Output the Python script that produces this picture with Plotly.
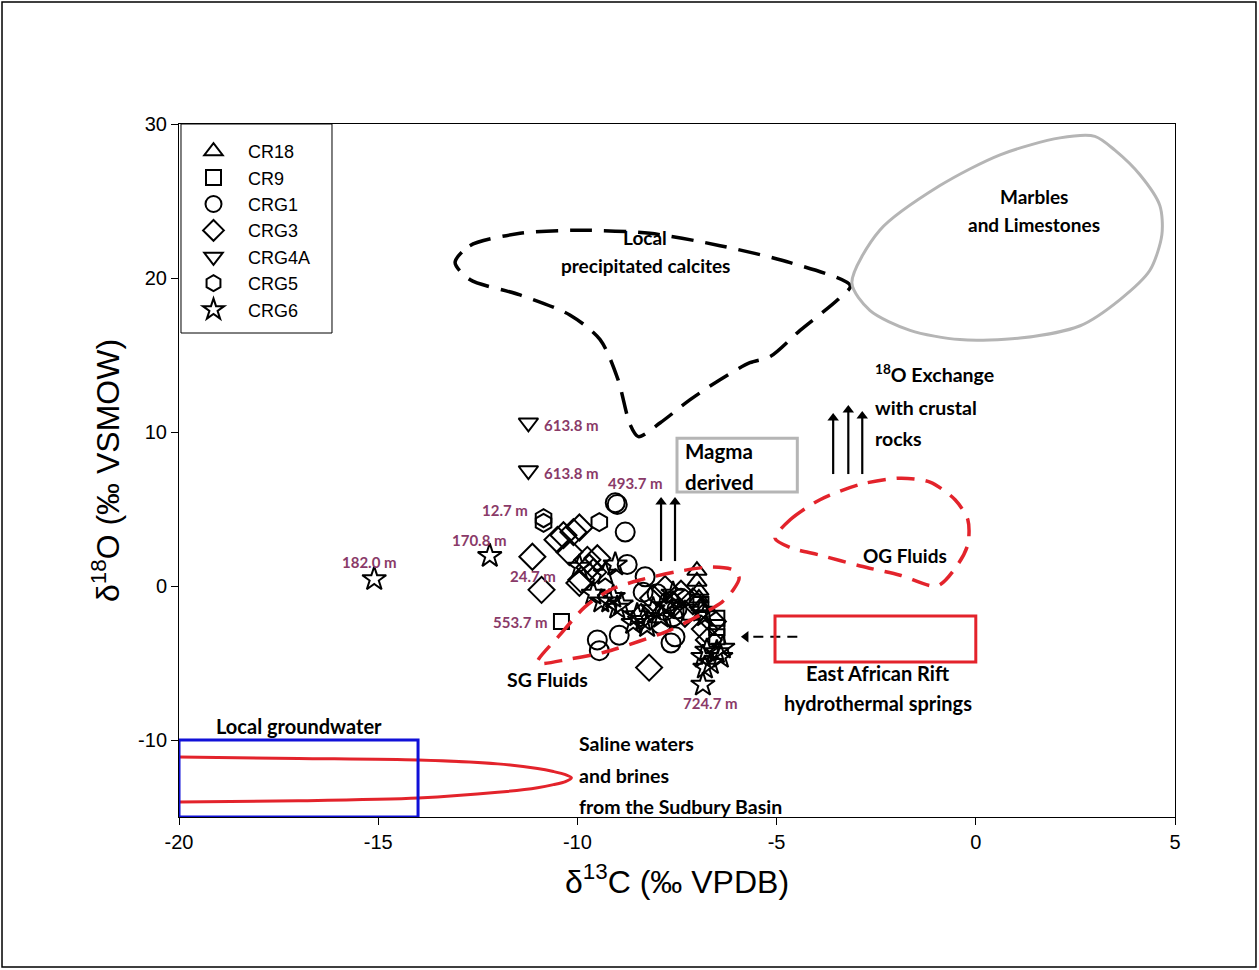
import plotly.graph_objects as go

# ---------------- data ----------------
cr18_x = [-7.0, -7.0, -6.95, -6.95, -6.9]
cr18_y = [1.0, 0.3, -0.3, -0.8, -1.3]

cr9_x = [-10.4, -7.15, -6.5, -6.5, -6.5, -6.9]
cr9_y = [-2.3, -1.7, -2.1, -2.7, -3.3, -1.2]

crg1_x = [-9.05, -9.0, -8.8, -8.75, -8.3, -9.5, -9.45, -8.95, -7.65, -7.55, -7.6, -7.7,
          -7.5, -7.9, -7.4, -8.0, -7.8, -8.35]
crg1_y = [5.4, 5.3, 3.5, 1.4, 0.6, -3.5, -4.2, -3.2, -3.7, -3.3, -2.0, -1.0,
          -1.5, -2.5, -0.8, -0.5, -1.6, -0.4]

crg3_x = [-11.13, -10.9, -10.5, -10.35, -10.1, -9.95, -10.2, -9.9, -9.75, -9.5, -9.95,
          -9.7, -9.6, -8.2, -8.1, -7.8, -7.4, -7.1, -6.8, -6.7, -6.6, -7.3, -8.4, -7.6]
crg3_y = [1.9, -0.25, 3.0, 3.3, 3.5, 3.8, 2.2, 0.4, 1.7, 1.8, 0.2,
          1.2, 0.9, -5.3, -0.8, -0.2, -0.5, -1.0, -2.8, -3.5, -2.3, -1.8, -2.0, -1.2]

crg4a_x = [-11.23, -11.23]
crg4a_y = [10.6, 7.5]

crg5_x = [-10.85, -10.85, -9.45]
crg5_y = [4.4, 4.1, 4.15]

crg6_x = [-15.1, -12.2, -9.95, -9.05, -9.2, -9.0, -9.4, -9.1, -8.9, -8.35, -8.25, -8.5,
          -8.1, -7.8, -7.9, -7.6, -6.9, -6.8, -6.85, -6.4, -6.65, -6.35, -6.8, -6.5,
          -6.75, -6.85, -9.6, -9.3, -8.6]
crg6_y = [0.45, 1.95, 1.25, 1.4, -1.0, -1.4, -1.0, -0.7, -1.2, -2.2, -2.6, -1.9,
          -1.5, -1.3, -2.0, -0.5, -1.6, -1.9, -4.6, -4.6, -5.0, -4.0, -5.3, -4.3,
          -4.2, -6.4, -0.5, 0.8, -2.4]

series_names = ["CR18", "CR9", "CRG1", "CRG3", "CRG4A", "CRG5", "CRG6"]

x_ticks = [-20, -15, -10, -5, 0, 5]
x_tick_text = ["-20", "-15", "-10", "-5", "0", "5"]
y_ticks = [-10, 0, 10, 20, 30]
y_tick_text = ["-10", "0", "10", "20", "30"]

# depth labels
depth_text = ["613.8 m", "613.8 m", "493.7 m", "12.7 m", "170.8 m", "24.7 m",
              "553.7 m", "182.0 m", "724.7 m"]
depth_x = [-10.89, -10.89, -8.53, -11.82, -12.45, -11.12, -11.42, -15.21, -6.65]
depth_y = [10.45, 7.34, 6.69, 4.94, 2.99, 0.65, -2.34, 1.56, -7.6]
depth_anchor = ["left", "left", "center", "center", "center", "center", "center",
                "center", "center"]

# reference field outlines
calcite_x = [-13.07, -12.7, -11.44, -9.93, -8.18, -6.42, -4.66, -3.15, -3.46, -4.41,
             -5.16, -5.67, -6.42, -7.17, -7.92, -8.47, -8.68, -8.98, -9.43, -10.19,
             -11.44, -12.7, -13.07]
calcite_y = [21.0, 22.1, 22.9, 23.1, 22.9, 22.1, 21.0, 19.5, 18.6, 16.6,
             14.9, 14.5, 13.4, 12.1, 10.6, 9.7, 10.5, 13.4, 16.0, 17.6,
             18.9, 19.9, 21.0]

marble_x = [-3.11, -2.41, -0.9, 0.61, 2.11, 2.99, 3.49, 4.12, 4.62, 4.67, 4.37, 3.62,
            2.62, 1.11, -0.4, -1.65, -2.66, -3.11]
marble_y = [19.68, 23.1, 26.0, 28.0, 29.1, 29.2, 28.3, 26.7, 24.7, 22.8, 20.5, 18.6,
            16.9, 16.1, 16.0, 16.6, 17.9, 19.68]

og_x = [-5.04, -4.66, -3.91, -2.9, -1.9, -1.15, -0.52, -0.2, -0.2, -0.45, -0.97,
        -1.9, -2.9, -3.91, -4.66, -5.04]
og_y = [3.1, 4.3, 5.6, 6.6, 7.0, 6.75, 5.6, 4.3, 2.7, 1.4, 0.0,
        0.7, 1.3, 2.0, 2.5, 3.1]

sg_x = [-11.01, -10.44, -9.81, -9.18, -8.43, -7.42, -6.67, -6.09, -5.94, -6.09, -6.37,
        -6.92, -7.67, -8.43, -9.31, -10.19, -11.01]
sg_y = [-5.0, -3.18, -1.36, -0.26, 0.39, 0.97, 1.23, 1.04, 0.52, -0.26, -1.04,
        -1.88, -2.86, -3.57, -4.29, -4.74, -5.0]

saline_x = [-20, -17, -14, -12, -11, -10.6, -10.3, -10.15, -10.3, -10.6, -11, -12,
            -14, -17, -20]
saline_y = [-11.1, -11.2, -11.3, -11.55, -11.85, -12.05, -12.25, -12.45, -12.7, -12.9,
            -13.1, -13.4, -13.77, -13.95, -14.03]

groundwater_box = [-20, -14, -15, -10]     # x0, x1, y0, y1
rift_box = [-5.04, 0.0, -4.94, -1.95]
magma_box = [-7.5, -4.48, 6.1, 9.6]

# vertical arrows: x, tail y, head y
arrow_x = [-7.9, -7.55, -3.58, -3.2, -2.85]
arrow_y0 = [1.62, 1.62, 7.27, 7.27, 7.27]
arrow_y1 = [5.78, 5.78, 11.23, 11.75, 11.36]
# dashed arrow from the rift box
rift_arrow_x = [-4.48, -5.9]
rift_arrow_y = [-3.3, -3.3]

# ---------------- figure ----------------
FONT = "Arial, Liberation Sans, sans-serif"
LFONT = "Lato, Open Sans, sans-serif"
PURPLE = "#8a3a68"
RED = "#e3232b"

fig = go.Figure()

marker_specs = [
    (cr18_x, cr18_y, "triangle-up-open", 17),
    (cr9_x, cr9_y, "square-open", 15),
    (crg1_x, crg1_y, "circle-open", 19),
    (crg3_x, crg3_y, "diamond-open", 20),
    (crg4a_x, crg4a_y, "triangle-down-open", 17),
    (crg5_x, crg5_y, "hexagon-open", 18),
    (crg6_x, crg6_y, "star-open", 18),
]
for name, (xs, ys, sym, sz) in zip(series_names, marker_specs):
    fig.add_trace(go.Scatter(
        x=xs, y=ys, mode="markers", name=name,
        marker=dict(symbol=sym, size=sz, color="black", line=dict(color="black", width=2)),
    ))

def outline(xs, ys, color, dash, width=3.5):
    fig.add_trace(go.Scatter(
        x=xs, y=ys, mode="lines", showlegend=False, hoverinfo="skip",
        line=dict(color=color, width=width, dash=dash, shape="spline", smoothing=0.8),
    ))

outline(calcite_x, calcite_y, "black", "22px,12px")
outline(marble_x, marble_y, "#b5b5b5", "solid", 3)
outline(og_x, og_y, RED, "18px,11px")
outline(sg_x, sg_y, RED, "18px,11px")
outline(saline_x, saline_y, RED, "solid", 3)

# arrows drawn as line traces with a triangular head
HEAD = 0.32  # head centre sits a little below the tip (y units)
for ax_, y0, y1 in zip(arrow_x, arrow_y0, arrow_y1):
    fig.add_trace(go.Scatter(x=[ax_, ax_], y=[y0, y1 - HEAD], mode="lines",
                             line=dict(color="black", width=2.2),
                             showlegend=False, hoverinfo="skip"))
    fig.add_trace(go.Scatter(x=[ax_], y=[y1 - HEAD], mode="markers",
                             marker=dict(symbol="triangle-up", size=10, color="black"),
                             showlegend=False, hoverinfo="skip"))
fig.add_trace(go.Scatter(x=[rift_arrow_x[0], rift_arrow_x[1] + 0.15], y=rift_arrow_y,
                         mode="lines", line=dict(color="black", width=2, dash="10px,7px"),
                         showlegend=False, hoverinfo="skip"))
fig.add_trace(go.Scatter(x=[rift_arrow_x[1] + 0.13], y=[rift_arrow_y[1]], mode="markers",
                         marker=dict(symbol="triangle-left", size=10, color="black"),
                         showlegend=False, hoverinfo="skip"))

shapes = []
shapes.append(dict(type="rect", xref="x", yref="y", x0=groundwater_box[0], x1=groundwater_box[1],
                   y0=groundwater_box[2], y1=groundwater_box[3], line=dict(color="#1010d8", width=3)))
shapes.append(dict(type="rect", xref="x", yref="y", x0=rift_box[0], x1=rift_box[1],
                   y0=rift_box[2], y1=rift_box[3], line=dict(color=RED, width=3)))
shapes.append(dict(type="rect", xref="x", yref="y", x0=magma_box[0], x1=magma_box[1],
                   y0=magma_box[2], y1=magma_box[3], line=dict(color="#b5b5b5", width=3)))
# legend frame
shapes.append(dict(type="rect", xref="paper", yref="paper", x0=0.002, x1=0.1536,
                   y0=0.6984, y1=1.0, line=dict(color="black", width=1),
                   fillcolor="white", layer="below"))
# outer frame of the picture
shapes.append(dict(type="rect", xref="paper", yref="paper", x0=-0.1777, x1=1.0813,
                   y0=-0.2165, y1=1.176, line=dict(color="black", width=1.5)))

ann = []
def label(text, x, y, size=20, anchor="center", color="black", bold=True, font=LFONT):
    ann.append(dict(x=x, y=y, xref="x", yref="y", text=f"<b>{text}</b>" if bold else text,
                    showarrow=False, xanchor=anchor, yanchor="middle",
                    font=dict(family=font, size=size, color=color)))

label("Marbles", 1.47, 25.3, size=19)
label("and Limestones", 1.47, 23.5, size=19)
label("Local", -8.3, 22.6, size=19)
label("precipitated calcites", -8.3, 20.8, size=19)
label("<sup>18</sup>O Exchange", -2.58, 13.83, anchor="left", size=19.5)
label("with crustal", -2.58, 11.62, anchor="left", size=19.5)
label("rocks", -2.58, 9.61, anchor="left", size=19.5)
label("Magma", -7.35, 8.77, size=20.5, anchor="left")
label("derived", -7.35, 6.75, size=20.5, anchor="left")
label("OG Fluids", -1.78, 2.0, size=19)
label("SG Fluids", -10.76, -6.1, size=19.5)
label("East African Rift", -2.45, -5.65, size=20)
label("hydrothermal springs", -2.45, -7.6, size=20)
label("Local groundwater", -16.99, -9.09, size=20)
label("Saline waters", -10.0, -10.2, anchor="left", size=19.5)
label("and brines", -10.0, -12.3, anchor="left", size=19.5)
label("from the Sudbury Basin", -10.0, -14.3, anchor="left", size=19.5)

for t, x, y, a in zip(depth_text, depth_x, depth_y, depth_anchor):
    label(t, x, y, size=15, anchor=a, color=PURPLE)

fig.update_layout(
    width=1259, height=970,
    margin=dict(l=179, r=84, t=124, b=153),
    paper_bgcolor="white", plot_bgcolor="white",
    shapes=shapes, annotations=ann,
    showlegend=True,
    legend=dict(x=0, y=0.987, xanchor="left", yanchor="top", bgcolor="rgba(0,0,0,0)",
                borderwidth=0, itemwidth=59,
                font=dict(family=FONT, size=18, color="black")),
    xaxis=dict(range=[-20, 5], tickvals=x_ticks, ticktext=x_tick_text, showgrid=False,
               zeroline=False, showline=True, linecolor="black", linewidth=1, mirror=True,
               ticks="outside", ticklen=7, tickcolor="black",
               tickfont=dict(family=FONT, size=20, color="black"),
               title=dict(text="δ<sup>13</sup>C (‰ VPDB)", standoff=18,
                          font=dict(family=FONT, size=32, color="black"))),
    yaxis=dict(range=[-15, 30], tickvals=y_ticks, ticktext=y_tick_text, showgrid=False,
               zeroline=False, showline=True, linecolor="black", linewidth=1, mirror=True,
               ticks="outside", ticklen=7, tickcolor="black",
               tickfont=dict(family=FONT, size=20, color="black"),
               title=dict(text="δ<sup>18</sup>O (‰ VSMOW)", standoff=8,
                          font=dict(family=FONT, size=32, color="black"))),
)

fig.write_html("out.html")
